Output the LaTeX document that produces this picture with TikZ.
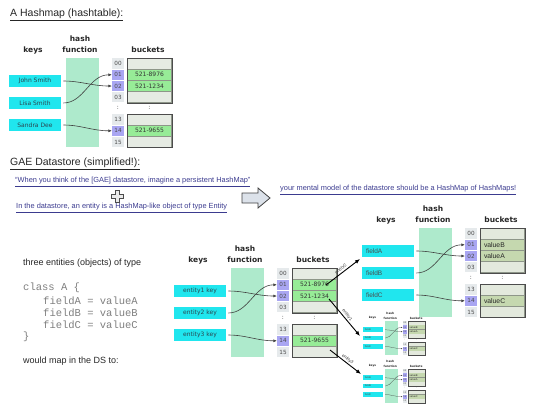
\documentclass[tikz,border=0pt]{standalone}
\usepackage{fontspec}
\setmainfont{Liberation Sans}
\setmonofont{Liberation Mono}
\newfontfamily\dvs{DejaVu Sans}
\usetikzlibrary{arrows.meta}
\definecolor{keycyan}{HTML}{20E6EE}
\definecolor{keytext}{HTML}{2A4650}
\definecolor{hashfill}{HTML}{AEEACC}
\definecolor{idxgrey}{HTML}{E6EAEC}
\definecolor{idxblue}{HTML}{A9A6F2}
\definecolor{bgrey}{HTML}{E6EBE3}
\definecolor{bgreen}{HTML}{97EC97}
\definecolor{bgreyB}{HTML}{E3E9DD}
\definecolor{bolive}{HTML}{C5D8AF}
\definecolor{bsep}{HTML}{8E9689}
\definecolor{linkblue}{HTML}{3B3B8F}
\definecolor{codegrey}{HTML}{7F7F7F}
\definecolor{arrowfill}{HTML}{DCE2EA}
\newcommand\hashmap[5]{%
  \pgfmathsetmacro\hmlw{0.6*#4}%
  \begin{scope}[shift={(#2,#3)}, scale=#4, every node/.append style={transform shape}, line width=\hmlw pt]
    \fill[hashfill] (0,0) rectangle (33,89);
    \node[hdr] (#1h1) at (14,-19) {hash};
    \node[hdr] (#1h2) at (14,-8) {function};
    \node[hdr] (#1h3) at (-33,-8) {keys};
    \node[hdr] (#1h4) at (82,-8) {buckets};
    \node[keybox,key#5] (#1k1) at (-31,23) {\hmKa};
    \node[keybox,key#5] (#1k2) at (-31,45) {\hmKb};
    \node[keybox,key#5] (#1k3) at (-31,67) {\hmKc};
    \node[idx] (#1i00) at (52,5.6) {00};
    \node[idx,idxhl] (#1i01) at (52,16.8) {01};
    \node[idx,idxhl] (#1i02) at (52,28) {02};
    \node[idx] (#1i03) at (52,39.2) {03};
    \node[dots] (#1d1) at (52,50) {:};
    \node[idx] (#1i13) at (52,61.6) {13};
    \node[idx,idxhl] (#1i14) at (52,72.8) {14};
    \node[idx] (#1i15) at (52,84) {15};
    \fill[bsep] (61,0) rectangle (106,44.8) (61,56) rectangle (106,89.6);
    \node[brow,plain#5] (#1b00) at (83.5,5.6) {};
    \node[brow,hl#5] (#1b01) at (83.5,16.8) {\hmVa};
    \node[brow,hl#5] (#1b02) at (83.5,28) {\hmVb};
    \node[brow,plain#5] (#1b03) at (83.5,39.2) {};
    \node[dots] (#1d2) at (83.5,50) {:};
    \node[brow,plain#5] (#1b13) at (83.5,61.6) {};
    \node[brow,hl#5] (#1b14) at (83.5,72.8) {\hmVc};
    \node[brow,plain#5] (#1b15) at (83.5,84) {};
    \draw[draw=black!70] (61,0) rectangle (106,44.8) (61,56) rectangle (106,89.6);
    \draw[conn] (#1k1) to[out=0,in=180] (#1i02);
    \draw[conn] (#1k2) to[out=0,in=180] (#1i01);
    \draw[conn] (#1k3) to[out=0,in=180] (#1i14);
  \end{scope}}
\begin{document}
\begin{tikzpicture}[x=1pt,y=-1pt,
  hdr/.style={font=\dvs\bfseries\fontsize{7.5}{8}\selectfont, text=black!85, inner sep=0},
  keybox/.style={fill=keycyan, minimum width=52, minimum height=12, inner sep=0},
  keyA/.style={font=\dvs\fontsize{6}{7}\selectfont, text=keytext},
  keyB/.style={font=\fontsize{6.5}{7}\selectfont, text=black!70, text width=44, align=left},
  idx/.style={minimum width=11.5, minimum height=10.4, inner sep=0, font=\dvs\fontsize{5.7}{6}\selectfont, text=black!70, fill=idxgrey},
  idxhl/.style={fill=idxblue},
  brow/.style={minimum width=43.5, minimum height=10, inner sep=0},
  plainA/.style={fill=bgrey},
  hlA/.style={fill=bgreen, font=\dvs\fontsize{6}{7}\selectfont, text=black!80},
  plainB/.style={fill=bgreyB},
  hlB/.style={fill=bolive, font=\fontsize{6.8}{7}\selectfont, text=black!85, text width=37, align=left},
  conn/.style={draw=black!75, shorten <=2pt, -{Latex[length=0pt 6,width=0pt 5]}},
  ent/.style={draw=black, line width=0.9pt, -{Latex[length=5pt,width=4pt]}},
  elab/.style={font=\fontsize{4.5}{5}\selectfont, text=black!75, inner sep=1pt},
  dots/.style={font=\dvs\fontsize{6}{7}\selectfont, inner sep=0, text=black!70},
  title/.style={font=\fontsize{10.5}{12}\selectfont, text=black!85, anchor=west, inner sep=0},
  link/.style={font=\fontsize{7.4}{8}\selectfont, text=linkblue, anchor=west, inner sep=0},
  body/.style={font=\fontsize{9}{10}\selectfont, text=black!85, anchor=west, inner sep=0},
  code/.style={font=\ttfamily\fontsize{10.5}{12}\selectfont, text=codegrey, anchor=west, inner sep=0},
]
\useasboundingbox (0,0) rectangle (540,405);
% top hashmap
\node[title] (t1) at (10,15) {\underline{A Hashmap (hashtable):}};
\def\hmKa{John Smith}\def\hmKb{Lisa Smith}\def\hmKc{Sandra Dee}%
\def\hmVa{521-8976}\def\hmVb{521-1234}\def\hmVc{521-9655}%
\hashmap{t}{66}{58}{1}{A}
% GAE section
\node[title] (t2) at (10,164) {\underline{GAE Datastore (simplified!):}};
\node[link] (l1) at (15,182) {\underline{“When you think of the [GAE] datastore, imagine a persistent HashMap”}};
\node[link] (l2) at (16,208) {\underline{In the datastore, an entity is a HashMap-like object of type Entity}};
\node[link] (l3) at (280,190) {\underline{your mental model of the datastore should be a HashMap of HashMaps!}};
\draw[fill=white!92!black, draw=black!70, line width=0.7pt] (115,190) -- (119,190) -- (119,194) -- (123,194) -- (123,198) -- (119,198) -- (119,202) -- (115,202) -- (115,198) -- (111,198) -- (111,194) -- (115,194) -- cycle;
\draw[fill=arrowfill, draw=black!75, line width=0.8pt] (242,193) -- (258,193) -- (258,188) -- (270,198) -- (258,208) -- (258,203) -- (242,203) -- cycle;
% text left
\node[body] (b1) at (23,263) {three entities (objects) of type};
\node[code] (c1) at (23,288) {class A \{};
\node[code] (c2) at (43,301) {fieldA = valueA};
\node[code] (c3) at (43,313) {fieldB = valueB};
\node[code] (c4) at (43,325) {fieldC = valueC};
\node[code] (c5) at (23,337) {\}};
\node[body] (b2) at (23,361) {would map in the DS to:};
% middle hashmap
\def\hmKa{entity1 key}\def\hmKb{entity2 key}\def\hmKc{entity3 key}%
\hashmap{m}{231}{268}{1}{A}
% right hashmap
\def\hmKa{fieldA}\def\hmKb{fieldB}\def\hmKc{fieldC}%
\def\hmVa{valueB}\def\hmVb{valueA}\def\hmVc{valueC}%
\hashmap{r}{419}{228}{1}{B}
% thumbnails
\hashmap{p}{385}{321}{0.38}{B}
\hashmap{q}{385}{369}{0.38}{B}
% entity arrows
\coordinate (e2s) at (326,285); \coordinate (e2e) at (360,259);
\coordinate (e1s) at (329,299); \coordinate (e1e) at (360,336);
\coordinate (e3s) at (330,350); \coordinate (e3e) at (361,374);
\draw[ent] (e2s) -- node[elab, sloped, above] {entity2} (e2e);
\draw[ent] (e1s) -- node[elab, sloped, above] {entity1} (e1e);
\draw[ent] (e3s) -- node[elab, sloped, above] {entity3} (e3e);
\end{tikzpicture}
\end{document}
